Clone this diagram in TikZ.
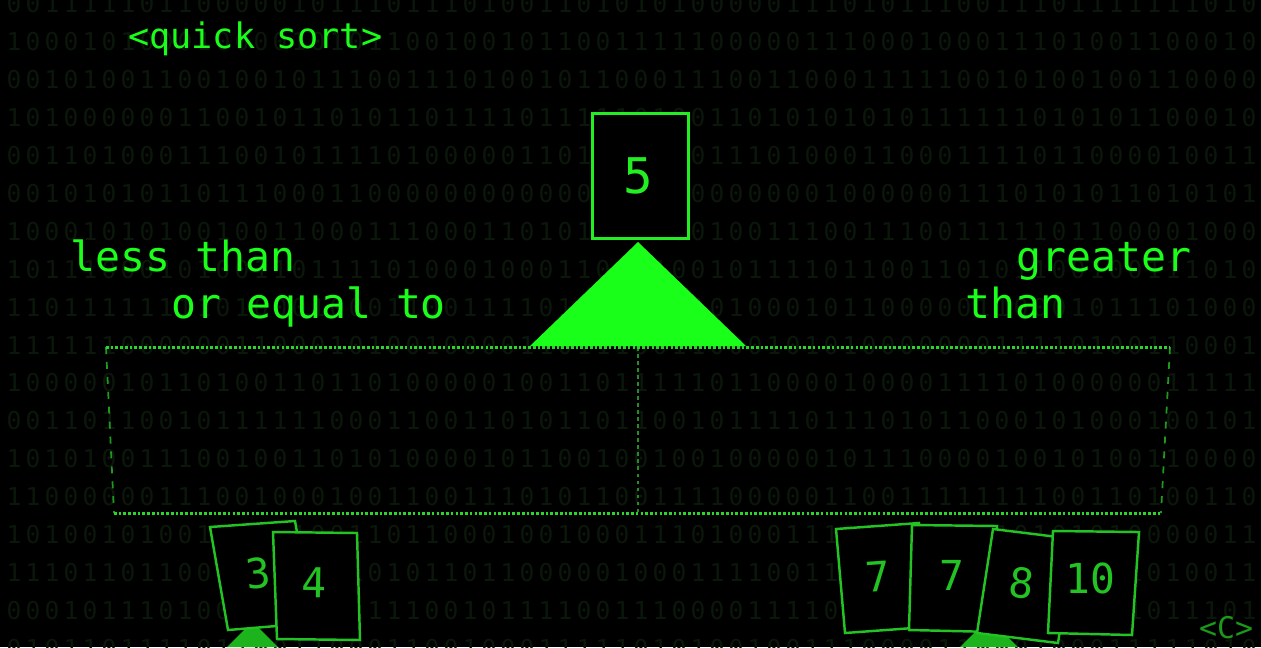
\documentclass[tikz,border=0pt]{standalone}
\usepackage{fontspec}
\setmainfont{DejaVu Sans Mono}
\definecolor{termgreen}{HTML}{1AFF1A}
\definecolor{pivotgreen}{HTML}{22EE22}
\definecolor{cardgreen}{HTML}{22C322}
\definecolor{dimgreen}{HTML}{1DB31D}
\definecolor{bitgreen}{HTML}{0B170B}
\definecolor{linegreen}{HTML}{28D828}
\definecolor{dashgreen}{HTML}{1E9A1E}
\definecolor{midgreen}{HTML}{2A8A2A}
\definecolor{logogreen}{HTML}{1A991A}

\tikzset{
  bit/.style={text=bitgreen, font=\fontsize{14}{14}\selectfont, inner sep=0pt},
  heading/.style={text=termgreen, font=\fontsize{20}{24}\selectfont, inner sep=0pt},
  lbl/.style={text=termgreen, font=\fontsize{23.6}{28}\selectfont, inner sep=0pt},
  topcard/.style={draw=pivotgreen, fill=black, line width=1.7pt},
  card/.style={draw=cardgreen, fill=black, line width=1.4pt, line join=miter},
  topnum/.style={text=pivotgreen, font=\fontsize{28}{28}\selectfont, inner sep=0pt},
  cardnum/.style={text=cardgreen, font=\fontsize{23.5}{24}\selectfont, inner sep=0pt},
  dotline/.style={draw=linegreen, line width=1.7pt, dash pattern=on 1.5pt off 1.2pt},
  sideline/.style={draw=dashgreen, line width=1pt, dash pattern=on 4pt off 4.5pt},
  midline/.style={draw=midgreen, line width=1pt, dash pattern=on 2pt off 2pt}
}

\begin{document}
\begin{tikzpicture}[x=0.02cm, y=-0.02cm]
  \fill[black] (0,0) rectangle (1261,647);
  \useasboundingbox (0,0) rectangle (1261,647);

  % binary backdrop
  \pgfmathsetseed{42}
  \foreach \r in {0,...,17}{
    \foreach \c in {0,...,66}{
      \pgfmathrandominteger{\b}{0}{1}
      \node[bit] (b-\r-\c) at ({14+19*\c},{4+37.9*\r}) {\b};
    }
  }

  \node[heading, anchor=base west] (title) at (128,48) {<quick sort>};

  % pivot on top of the scale
  \draw[topcard] (592,113) rectangle (688,238);
  \node[topnum] (pivot) at (638,176) {5};
  \coordinate (apex) at (638,242);
  \fill[termgreen] (apex) -- (746,346) -- (530,346) -- cycle;

  \node[lbl, anchor=base west] (less) at (70,271) {less than};
  \node[lbl, anchor=base west] (oreq) at (171,318) {or equal to};
  \node[lbl, anchor=base west] (greater) at (1016,271) {greater};
  \node[lbl, anchor=base west] (than) at (965,318) {than};

  % the two bins
  \coordinate (tl) at (106,347);
  \coordinate (tr) at (1170,347);
  \coordinate (bl) at (114,513);
  \coordinate (br) at (1161,513);
  \coordinate (tm) at (638,347);
  \coordinate (bm) at (638,513);
  \draw[sideline] (tl) -- (bl);
  \draw[sideline] (tr) -- (br);
  \draw[midline] (tm) -- (bm);
  \draw[dotline] (tl) -- (tr);
  \draw[dotline] (bl) -- (br);

  % left pile
  \fill[dimgreen] (252.5,621.5) -- (278,647) -- (227,647) -- cycle;
  \filldraw[card] (210,527) -- (295,521) -- (313,623) -- (228,630) -- cycle;
  \node[cardnum, rotate=6] (three) at (258,573) {3};
  \filldraw[card] (273,532) -- (357,533) -- (360,640) -- (277,639) -- cycle;
  \node[cardnum, rotate=-1] (four) at (314,583) {4};

  % right pile
  \fill[dimgreen] (989,618) -- (1018,647) -- (960,647) -- cycle;
  \filldraw[card] (836,529) -- (919,523) -- (927,627) -- (845,633) -- cycle;
  \node[cardnum, rotate=4] (sevena) at (878,577) {7};
  \filldraw[card] (912,525) -- (997,526) -- (995,632) -- (909,630) -- cycle;
  \node[cardnum] (sevenb) at (952,575) {7};
  \filldraw[card] (993,529) -- (1074,539) -- (1058,643) -- (977,633) -- cycle;
  \node[cardnum, rotate=-7] (eight) at (1022,583) {8};
  \filldraw[card] (1053,531) -- (1139,532) -- (1132,635) -- (1048,633) -- cycle;
  \node[cardnum] (ten) at (1090,578) {10};

  \node[text=logogreen, font=\fontsize{17}{17}\selectfont, inner sep=0pt] (logo) at (1226,628) {<C>};
\end{tikzpicture}
\end{document}
